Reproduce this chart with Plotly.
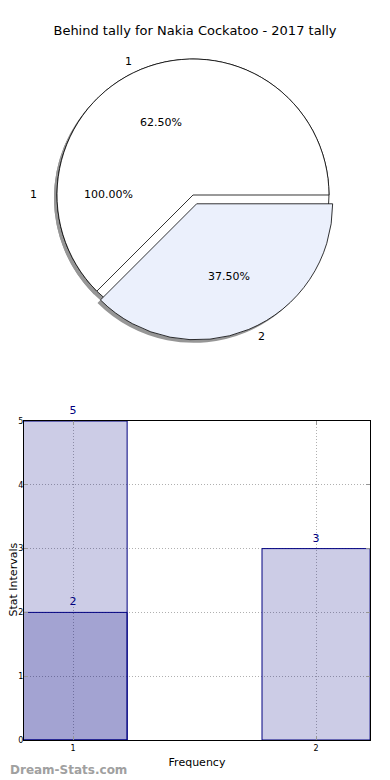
import math
import plotly.graph_objects as go

# ---------------- data ----------------
title_text = "Behind tally for Nakia Cockatoo - 2017 tally"
pie_outer_labels = ["1"]
pie_outer_values = [1]
pie_labels = ["1", "2"]
pie_values = [5, 3]
pie_pull = [0, 0.07]

bar_categories = [1, 2]
bar_values_a = [5, 3]
bar_categories_b = [1]
bar_values_b = [2]
x_tick_labels = ["1", "2"]
x_title = "Frequency"
y_title = "Stat Intervals"
watermark = "Dream-Stats.com"

# ---------------- geometry helpers ----------------
OFF = 8                      # page body margin of the browser
FW, FH = 390 - OFF, 780 - OFF
FONT = "DejaVu Sans"
CX, CY, R = 193, 195, 136    # pie centre / radius (page px)
RX, RY = 140, 131            # radii used for text placement
SH = 3                       # shadow offset (px)


def fx(px):
    return (px - OFF) / FW


def fy(py):
    return 1 - (py - OFF) / FH


def px_domain(cx, cy, half):
    return dict(x=[fx(cx - half), fx(cx + half)], y=[fy(cy + half), fy(cy - half)])


max_pull = max(pie_pull)
half_big = R * (1 + max_pull)
first_frac = pie_values[0] / sum(pie_values)
rot = 90 - 360 * first_frac   # first slice runs counter-clockwise from 3 o'clock

fig = go.Figure()

# shadows
fig.add_trace(go.Pie(labels=pie_outer_labels, values=pie_outer_values, sort=False,
                     domain=px_domain(CX - SH, CY + SH, R), textinfo="none",
                     marker=dict(colors=["rgb(150,150,150)"], line=dict(width=0)),
                     hoverinfo="skip", showlegend=False))
fig.add_trace(go.Pie(labels=pie_labels, values=pie_values, sort=False, pull=pie_pull,
                     rotation=rot, direction="counterclockwise",
                     domain=px_domain(CX - SH, CY + SH, half_big), textinfo="none",
                     marker=dict(colors=["rgb(150,150,150)"] * 2, line=dict(width=0)),
                     hoverinfo="skip", showlegend=False))
# full (100%) pie
fig.add_trace(go.Pie(labels=pie_outer_labels, values=pie_outer_values, sort=False,
                     domain=px_domain(CX, CY, R), textinfo="none",
                     marker=dict(colors=["white"], line=dict(color="black", width=0.8)),
                     showlegend=False))
# main pie
fig.add_trace(go.Pie(labels=pie_labels, values=pie_values, sort=False, pull=pie_pull,
                     rotation=rot, direction="counterclockwise",
                     domain=px_domain(CX, CY, half_big), textinfo="none",
                     marker=dict(colors=["white", "#ebf0fc"], line=dict(color="black", width=0.8)),
                     showlegend=False))

annotations = []


def pie_texts(labels, values, pulls):
    total = sum(values)
    cum = 0.0
    for lab, v, p in zip(labels, values, pulls):
        frac = v / total
        mid = math.radians(360 * (cum + frac / 2))
        cum += frac
        c, s = math.cos(mid), math.sin(mid)
        ox, oy = CX + p * RX * c, CY - p * RY * s
        annotations.append(dict(x=fx(ox + 0.6 * RX * c), y=fy(oy - 0.6 * RY * s),
                                xref="paper", yref="paper", showarrow=False,
                                xanchor="center", yanchor="middle",
                                text=f"{frac * 100:.2f}%",
                                font=dict(size=11, color="black", family=FONT)))
        annotations.append(dict(x=fx(ox + 1.1 * RX * c), y=fy(oy - 1.1 * RY * s),
                                xref="paper", yref="paper", showarrow=False,
                                xanchor="right" if c < 0 else "left", yanchor="middle",
                                text=lab, font=dict(size=11, color="black", family=FONT)))


pie_texts(pie_outer_labels, pie_outer_values, [0])
pie_texts(pie_labels, pie_values, pie_pull)

# ---------------- bars ----------------
bar_fill = "rgba(0,0,128,0.2)"
for xs, ys in ((bar_categories, bar_values_a), (bar_categories_b, bar_values_b)):
    fig.add_trace(go.Bar(x=xs, y=ys, width=0.445,
                         marker=dict(color=bar_fill, line=dict(color="navy", width=1)),
                         cliponaxis=True, showlegend=False))
# value labels above the bars (an invisible marker sets the gap)
for xs, ys, gap in ((bar_categories, bar_values_a, 5), (bar_categories_b, bar_values_b, 0)):
    fig.add_trace(go.Scatter(x=xs, y=ys, mode="markers+text", text=[str(v) for v in ys],
                             textposition="top center", cliponaxis=False,
                             marker=dict(size=gap, color="rgba(0,0,0,0)"),
                             textfont=dict(color="navy", size=11, family=FONT),
                             hoverinfo="skip", showlegend=False))

# y-axis title (placed by hand so that it stays inside the page)
annotations.append(dict(x=fx(4), y=fy(580), xref="paper", yref="paper",
                        xanchor="left", yanchor="middle", showarrow=False, textangle=-90,
                        text=y_title, font=dict(size=11, color="black", family=FONT)))
annotations.append(dict(x=fx(8), y=fy(770), xref="paper", yref="paper",
                        xanchor="left", yanchor="middle", showarrow=False,
                        text=f"<b>{watermark}</b>",
                        font=dict(size=12, color="rgb(160,160,160)", family=FONT)))

axis_common = dict(showline=True, linecolor="black", linewidth=1, mirror="ticks",
                   ticks="inside", ticklen=4, tickcolor="rgb(150,150,150)",
                   showgrid=True, gridcolor="rgb(176,176,176)", griddash="1px,2px", gridwidth=1,
                   zeroline=False, automargin=False,
                   tickfont=dict(size=8, color="black", family=FONT))

fig.update_layout(
    width=FW, height=FH, margin=dict(l=0, r=0, t=0, b=0, autoexpand=False),
    paper_bgcolor="white", plot_bgcolor="white",
    font=dict(family=FONT, color="black"),
    barmode="overlay", showlegend=False,
    title=dict(text=title_text, x=fx(195), xanchor="center", y=fy(30), yanchor="middle",
               font=dict(size=13, family=FONT, color="black")),
    xaxis=dict(domain=[fx(24), fx(370)], range=[0.798, 2.222], tickvals=bar_categories,
               ticktext=x_tick_labels,
               title=dict(text=x_title, font=dict(size=11, family=FONT), standoff=6),
               **axis_common),
    yaxis=dict(domain=[fy(740), fy(421)], range=[0, 5], dtick=1, ticklabelstandoff=-2,
               **axis_common),
    annotations=annotations,
)

fig.write_html("out.html")
